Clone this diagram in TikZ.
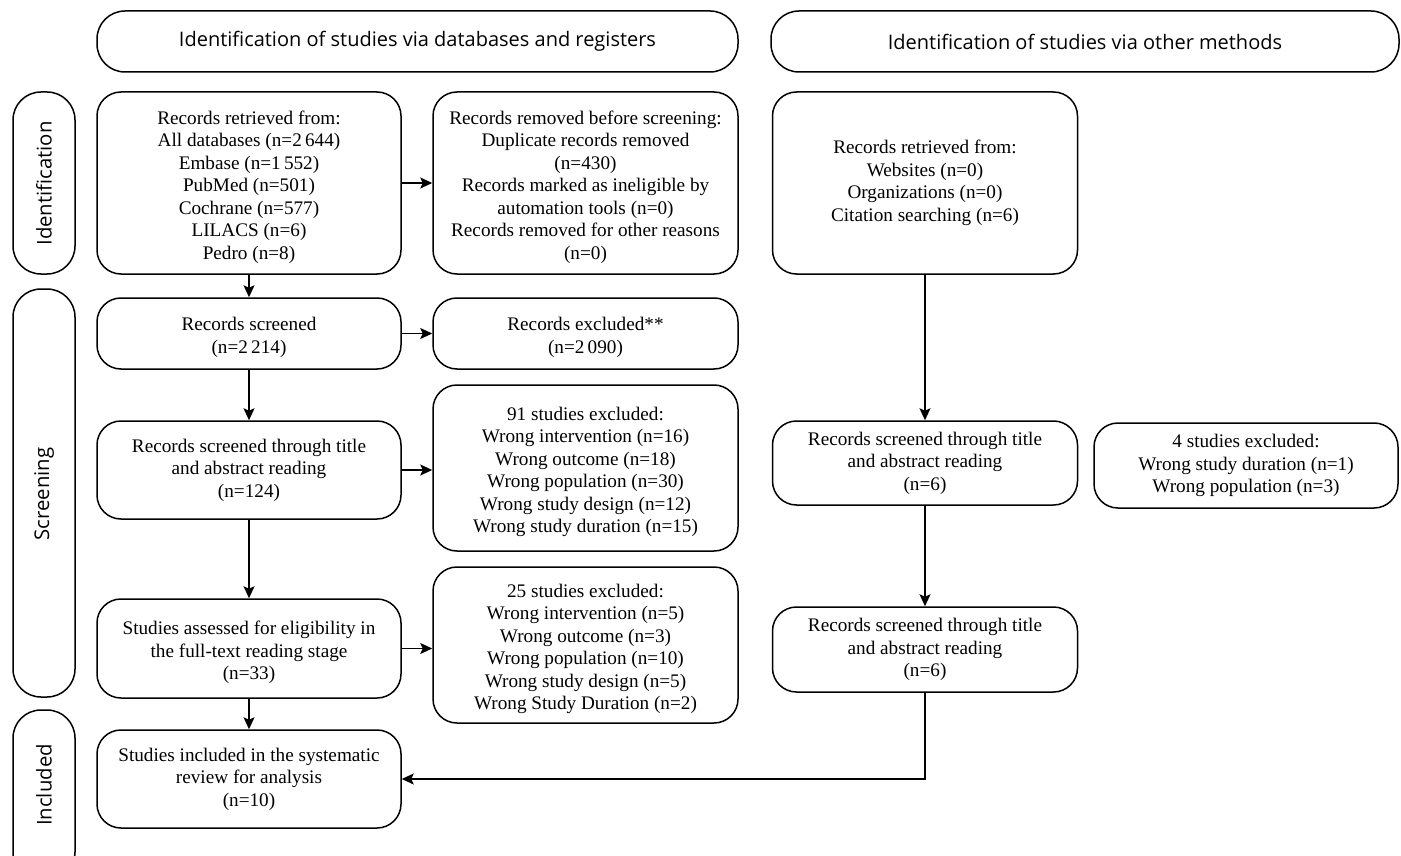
\documentclass[tikz,border=0pt]{standalone}
\usepackage{fontspec}
\setmainfont{Liberation Serif}
\newfontfamily\hdrfont{Open Sans}
\usetikzlibrary{arrows.meta}
\newcommand\bxstrut{\rule{0pt}{21.5pt}}
\tikzset{
  box/.style={draw, line width=1.5pt, rounded corners=24pt, align=center, inner sep=0pt,
    font=\fontsize{19.2}{22.5}\selectfont},
  hdrbox/.style={draw, line width=1.5pt, rounded corners=28pt, align=center, inner sep=0pt,
    font=\hdrfont\fontsize{20}{24}\selectfont},
  sidebox/.style={draw, line width=1.5pt, rounded corners=28pt, inner sep=0pt, minimum width=62pt},
  sidetext/.style={rotate=90, font=\hdrfont\fontsize{20.3}{24}\selectfont, inner sep=0pt},
  arr/.style={line width=1.5pt, -{Stealth[length=12pt, width=11pt, inset=2.5pt]}},
  ln/.style={line width=1.5pt}
}
\begin{document}
\begin{tikzpicture}[x=1pt, y=-1pt]
\useasboundingbox (0,0) rectangle (1401,856);
\clip (0,0) rectangle (1401,856);
% headers
\node[hdrbox, minimum width=641pt, minimum height=61pt] (h1) at (417.5,41.5) {Identification of studies via databases and registers};
\node[hdrbox, minimum width=628pt, minimum height=61pt] (h2) at (1085,41.5) {Identification of studies via other methods};
% side labels
\node[sidebox, minimum height=182pt] (s1) at (44,183) {};
\node[sidetext] (s1t) at (44,183.5) {Identification};
\node[sidebox, minimum height=408pt] (s2) at (44,493) {};
\node[sidetext] (s2t) at (44,494) {Screening};
\node[sidebox, minimum height=170pt] (s3) at (44,795) {};
\node[sidetext] (s3t) at (44,785) {Included};
% column 1
\node[box, minimum width=304pt, minimum height=182pt] (A) at (249,183) {\bxstrut Records retrieved from:\\All databases (n=2\,644)\\Embase (n=1\,552)\\PubMed (n=501)\\Cochrane (n=577)\\LILACS (n=6)\\Pedro (n=8)};
\node[box, minimum width=304pt, minimum height=71pt] (D) at (249,333.5) {\bxstrut Records screened\\(n=2\,214)};
\node[box, minimum width=304pt, minimum height=98pt] (F) at (249,470) {Records screened through title\\and abstract reading\\(n=124)};
\node[box, minimum width=304pt, minimum height=99pt] (J) at (249,648.5) {\bxstrut Studies assessed for eligibility in\\the full-text reading stage\\(n=33)};
\node[box, minimum width=304pt, minimum height=98pt] (M) at (249,779) {Studies included in the systematic\\review for analysis\\(n=10)};
% column 2
\node[box, minimum width=305pt, minimum height=182pt] (B) at (585.5,183) {\bxstrut Records removed before screening:\\Duplicate records removed\\(n=430)\\Records marked as ineligible by\\automation tools (n=0)\\Records removed for other reasons\\(n=0)};
\node[box, minimum width=305pt, minimum height=71pt] (E) at (585.5,333.5) {\bxstrut Records excluded**\\(n=2\,090)};
\node[box, minimum width=305pt, minimum height=166pt] (G) at (585.5,468) {\bxstrut 91 studies excluded:\\Wrong intervention (n=16)\\Wrong outcome (n=18)\\Wrong population (n=30)\\Wrong study design (n=12)\\Wrong study duration (n=15)};
\node[box, minimum width=305pt, minimum height=156pt] (K) at (585.5,645) {\bxstrut 25 studies excluded:\\Wrong intervention (n=5)\\Wrong outcome (n=3)\\Wrong population (n=10)\\Wrong study design (n=5)\\Wrong Study Duration (n=2)};
% column 3
\node[box, minimum width=305pt, minimum height=182pt] (C) at (925,183) {Records retrieved from:\\Websites (n=0)\\Organizations (n=0)\\Citation searching (n=6)};
\node[box, minimum width=305pt, minimum height=84pt] (H) at (925,463) {Records screened through title\\and abstract reading\\(n=6)};
\node[box, minimum width=305pt, minimum height=85pt] (L) at (925,649.5) {Records screened through title\\and abstract reading\\(n=6)};
% column 4
\node[box, minimum width=304pt, minimum height=85pt] (I) at (1246,465.5) {4 studies excluded:\\Wrong study duration (n=1)\\Wrong population (n=3)};
% connectors
\draw[arr] (A) -- (B);
\draw[arr] (A) -- (D);
\draw[arr] (D) -- (E);
\draw[arr] (D) -- (F);
\draw[arr] (F.east) -- (F.east -| G.west);
\draw[arr] (F) -- (J);
\draw[arr] (J.east) -- (J.east -| K.west);
\draw[arr] (J) -- (M);
\draw[arr] (C) -- (H);
\draw[arr] (H) -- (L);
\draw[arr] (L.south) |- (M.east);
\end{tikzpicture}
\end{document}
